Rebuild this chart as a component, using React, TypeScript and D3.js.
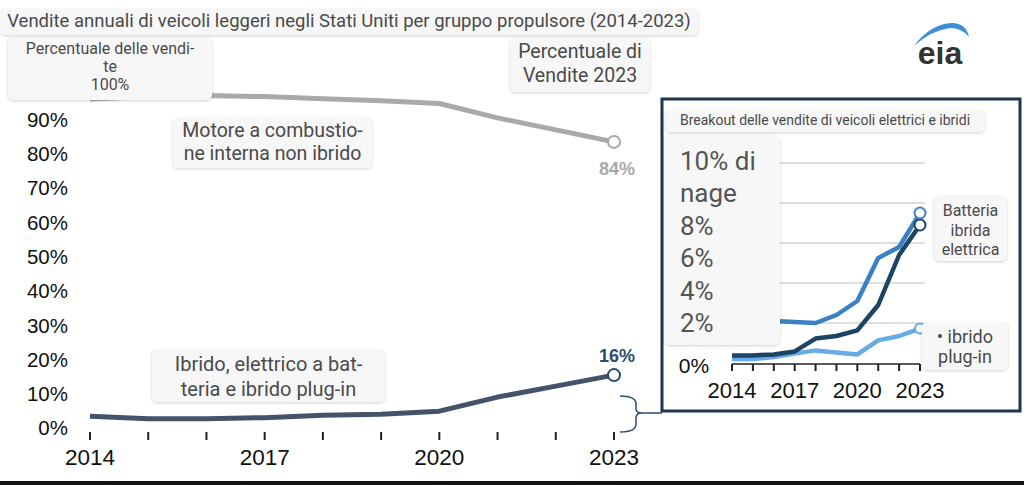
import React from "react";
import * as d3 from "d3";

const years = [2014, 2015, 2016, 2017, 2018, 2019, 2020, 2021, 2022, 2023];
const iceShare = [96.5, 97.2, 97.5, 97.2, 96.6, 96.0, 95.2, 91.0, 87.5, 84];
const electrifiedShare = [4.0, 3.3, 3.3, 3.6, 4.3, 4.6, 5.5, 9.6, 12.8, 16];
const hevShare = [2.9, 2.5, 2.1, 2.05, 2.0, 2.4, 3.1, 5.25, 5.8, 7.5];
const bevShare = [0.38, 0.38, 0.43, 0.58, 1.22, 1.35, 1.63, 2.9, 5.4, 6.9];
const phevShare = [0.2, 0.2, 0.3, 0.47, 0.63, 0.52, 0.43, 1.13, 1.35, 1.72];
const mainYTicks = [0, 10, 20, 30, 40, 50, 60, 70, 80, 90];
const mainXLabels = [2014, 2017, 2020, 2023];
const insetGrid = [2, 4, 6, 8, 10];
const insetXLabels = [2014, 2017, 2020, 2023];

const SANS = "'Liberation Sans', Arial, sans-serif";
const ANN = "Roboto, 'Noto Sans', sans-serif";

function Box({ x, y, w, h, lines, size, lh, color = "#4a4a4a", cx, ty }: any) {
  return (
    <g>
      <rect x={x} y={y} width={w} height={h} rx={5} fill="#f7f7f7" filter="url(#sh)" />
      {lines.map((l: string, i: number) => (
        <text key={i} x={cx ?? x + w / 2} y={ty + i * lh} textAnchor="middle" fontFamily={ANN} fontSize={size} fill={color} dominantBaseline="middle">
          {l}
        </text>
      ))}
    </g>
  );
}

export default function App() {
  const x = d3.scaleLinear().domain([2014, 2023]).range([90, 614]);
  const y = d3.scaleLinear().domain([0, 100]).range([430, 87]);
  const ix = d3.scaleLinear().domain([2014, 2023]).range([732, 920]);
  const iy = d3.scaleLinear().domain([0, 10]).range([363, 163]);

  const mainLine = (vals: number[]) =>
    d3.line<number>().x((_, i) => x(years[i])).y((v) => y(v))(vals) as string;
  const insetLine = (vals: number[]) =>
    d3.line<number>().x((_, i) => ix(years[i])).y((v) => iy(v))(vals) as string;

  const last = years.length - 1;
  const cHEV = "#3a80c2";
  const cBEV = "#1c4464";
  const cPHEV = "#66aae6";

  return (
    <svg width={1024} height={485} style={{ position: "absolute", left: 0, top: 0, background: "#fff" }}>
      <defs>
        <filter id="sh" x="-10%" y="-20%" width="120%" height="150%">
          <feDropShadow dx="0" dy="1" stdDeviation="1.5" floodColor="#000" floodOpacity="0.18" />
        </filter>
      </defs>

      {/* main y tick labels */}
      {mainYTicks.map((t) => (
        <text key={t} x={68} y={y(t)} textAnchor="end" dominantBaseline="middle" fontFamily={SANS} fontSize={20.5} fill="#111">
          {t}%
        </text>
      ))}
      {/* main x ticks */}
      {years.map((yr) => (
        <line key={yr} x1={x(yr)} x2={x(yr)} y1={432} y2={440} stroke="#222" strokeWidth={2} />
      ))}
      {mainXLabels.map((yr) => (
        <text key={yr} x={x(yr)} y={459} textAnchor="middle" dominantBaseline="middle" fontFamily={SANS} fontSize={22.5} fill="#111">
          {yr}
        </text>
      ))}

      {/* main lines */}
      <path d={mainLine(iceShare)} fill="none" stroke="#a9a9a9" strokeWidth={5} strokeLinejoin="round" />
      <path d={mainLine(electrifiedShare)} fill="none" stroke="#45526a" strokeWidth={5} strokeLinejoin="round" />
      <circle cx={x(years[last])} cy={y(iceShare[last])} r={6} fill="#fff" stroke="#a9a9a9" strokeWidth={2} />
      <circle cx={x(years[last])} cy={y(electrifiedShare[last])} r={6} fill="#fff" stroke="#2e4a6e" strokeWidth={2} />
      <text x={617} y={170} textAnchor="middle" dominantBaseline="middle" fontFamily={SANS} fontWeight="bold" fontSize={18} fill="#a9a9a9">
        84%
      </text>
      <text x={617} y={357} textAnchor="middle" dominantBaseline="middle" fontFamily={SANS} fontWeight="bold" fontSize={18} fill="#2e4a6e">
        16%
      </text>

      {/* brace */}
      <path d="M620,396 Q636,396 636,404 L636,409 Q636,413 642,413 Q636,413 636,418 L636,424 Q636,432 620,432" fill="none" stroke="#2e4a6e" strokeWidth={1.5} />
      <line x1={642} y1={413} x2={662} y2={413} stroke="#2e4a6e" strokeWidth={1.5} />

      {/* annotations main */}
      <Box x={0} y={9} w={698} h={26} lines={["Vendite annuali di veicoli leggeri negli Stati Uniti per gruppo propulsore (2014-2023)"]} size={18.5} lh={0} ty={22} cx={349} />
      <Box x={8} y={38} w={204} h={62} lines={["Percentuale delle vendi-", "te", "100%"]} size={16} lh={18} ty={50} />
      <Box x={510} y={38} w={140} h={54} lines={["Percentuale di", "Vendite 2023"]} size={19.5} lh={24} ty={53} />
      <Box x={173} y={118} w={199} h={50} lines={["Motore a combustio-", "ne interna non ibrido"]} size={19.5} lh={23} ty={132} />
      <Box x={152} y={350} w={233} h={52} lines={["Ibrido, elettrico a bat-", "teria e ibrido plug-in"]} size={20} lh={25} ty={366} />

      {/* eia logo */}
      <path d="M914,46 Q930,24 952,23 Q966,23 969,37 Q962,28 950,28 Q932,30 914,46 Z" fill="#3d8fd6" />
      <text x={940} y={64} textAnchor="middle" fontFamily={SANS} fontSize={32} fill="#333" style={{ fontWeight: 600 }}>
        eia
      </text>

      {/* inset */}
      <rect x={662} y={99} width={358} height={312} fill="#fff" stroke="#1d3550" strokeWidth={3} />
      {insetGrid.map((g) => (
        <line key={g} x1={732} x2={925} y1={iy(g)} y2={iy(g)} stroke="#dedede" strokeWidth={2} />
      ))}
      <line x1={ix(2014)} x2={ix(2023)} y1={364} y2={364} stroke="#222" strokeWidth={1.5} />
      {years.map((yr) => (
        <line key={yr} x1={ix(yr)} x2={ix(yr)} y1={364} y2={371} stroke="#222" strokeWidth={2} />
      ))}
      {insetXLabels.map((yr) => (
        <text key={yr} x={ix(yr)} y={392} textAnchor="middle" dominantBaseline="middle" fontFamily={SANS} fontSize={22} fill="#111">
          {yr}
        </text>
      ))}
      <text x={694} y={367} textAnchor="middle" dominantBaseline="middle" fontFamily={SANS} fontSize={21} fill="#111">
        0%
      </text>
      <path d={insetLine(phevShare)} fill="none" stroke={cPHEV} strokeWidth={4.5} strokeLinejoin="round" />
      <path d={insetLine(hevShare)} fill="none" stroke={cHEV} strokeWidth={4.5} strokeLinejoin="round" />
      <path d={insetLine(bevShare)} fill="none" stroke={cBEV} strokeWidth={4.5} strokeLinejoin="round" />
      <circle cx={ix(years[last])} cy={iy(phevShare[last])} r={5} fill="#fff" stroke={cPHEV} strokeWidth={2} />
      <circle cx={ix(years[last])} cy={iy(bevShare[last])} r={5.5} fill="#fff" stroke={cBEV} strokeWidth={2} />
      <circle cx={ix(years[last])} cy={iy(hevShare[last])} r={5.5} fill="#fff" stroke={cHEV} strokeWidth={2} />

      <Box x={934} y={196} w={73} h={65} lines={["Batteria", "ibrida", "elettrica"]} size={16} lh={19.5} ty={212} />
      <Box x={922} y={322} w={86} h={48} lines={["• ibrido", "plug-in"]} size={18} lh={20} ty={338} />

      <Box x={665} y={110} w={320} h={22} lines={["Breakout delle vendite di veicoli elettrici e ibridi"]} size={14} lh={0} ty={121} cx={825} />
      <g>
        <rect x={664} y={135} width={116} height={210} rx={6} fill="#f7f7f7" filter="url(#sh)" />
        {["10% di", "nage", "8%", "6%", "4%", "2%"].map((l, i) => (
          <text key={i} x={680} y={163 + i * 32.5} dominantBaseline="middle" fontFamily={ANN} fontSize={26} fill="#555">
            {l}
          </text>
        ))}
      </g>

      {/* bottom rule */}
      <rect x={0} y={481} width={1024} height={4} fill="#111" />
    </svg>
  );
}
